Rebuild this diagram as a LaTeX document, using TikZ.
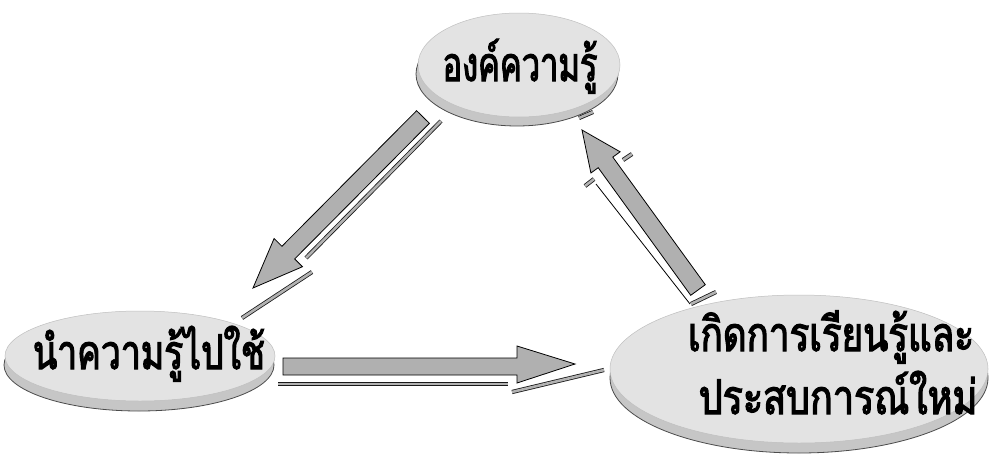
\documentclass[tikz,border=0pt]{standalone}
\usepackage{fontspec}
\usetikzlibrary{shapes.geometric}
\newfontfamily\thaifont[Script=Thai, FakeStretch=0.66, FakeBold=2.2]{Loma}
\newcommand\wideby[2]{\scalebox{#1}[1]{#2}}
\begin{document}
\begin{tikzpicture}[x=1pt,y=-1pt,
  bubble/.style={ellipse, fill=gray!22, draw=gray!50, line width=0.5pt, inner sep=0pt},
  bubshadow/.style={ellipse, fill=gray!45, draw=black!70, line width=0.8pt, inner sep=0pt},
  arrowbody/.style={fill=gray!62, draw=black, line width=0.8pt, line join=miter},
  strip/.style={draw=black!90, double=gray!60, double distance=2.6pt, line width=0.8pt},
  thinline/.style={draw=black, line width=0.8pt},
  label/.style={font=\thaifont\fontsize{48}{56}\selectfont, inner sep=0pt, anchor=base}]
\fill[white] (0,0) rectangle (992,455);
\useasboundingbox (0,0) rectangle (992,455);

% ellipse shadows
\node[bubshadow, minimum width=202pt, minimum height=104pt] (topS) at (517,74) {};
\node[bubshadow, minimum width=270pt, minimum height=92pt] (leftS) at (139,365) {};
\node[bubshadow, minimum width=378pt, minimum height=150pt] (rightS) at (799,378) {};
% ellipses
\node[bubble, minimum width=202pt, minimum height=104pt] (top) at (519,65) {};
\node[bubble, minimum width=270pt, minimum height=90pt] (left) at (140,356) {};
\node[bubble, minimum width=378pt, minimum height=148pt] (right) at (799,369) {};

% labels
\node[label] (topT) at (520,81) {\wideby{1.03}{องค์ความรู้}};
\node[label] (leftT) at (149,369) {\wideby{1.12}{นำความรู้ไปใช้}};
\node[label] (rightT1) at (831,351) {\wideby{1.16}{เกิดการเรียนรู้และ}};
\node[label] (rightT2) at (838,414) {\wideby{1.19}{ประสบการณ์ใหม่}};

% arrow 1 : top -> left
\coordinate (a1tail) at (423,117);
\coordinate (a1tip) at (253,288);
\draw[strip] (441,121) -- (306,258);
\draw[strip] (312,272) -- (242,318);
\path[arrowbody] (416.6,110.7) -- (429.4,123.3) -- (294.7,258.9) -- (302.5,266.7)
  -- (a1tip) -- (274.1,238.5) -- (281.9,246.3) -- cycle;

% arrow 2 : right -> top
\coordinate (a2tail) at (698,290);
\coordinate (a2tip) at (582,130);
\draw[thinline] (596,184) -- (690,304);
\draw[strip] (691,304) -- (716,292);
\draw[strip] (585,186) -- (594,179);
\draw[strip] (623,160) -- (632,154);
\draw[strip] (579,118) -- (593,112);
\path[arrowbody] (690.7,295.3) -- (705.3,284.7) -- (612.8,157.1) -- (620.1,151.8)
  -- (a2tip) -- (590.9,173.0) -- (598.2,167.7) -- cycle;

% arrow 3 : left -> right
\coordinate (a3tail) at (283,366);
\coordinate (a3tip) at (575,364);
\draw[strip] (278,384) -- (508,384);
\draw[strip] (512,392) -- (604,370);
\path[arrowbody] (283,358) -- (517,358) -- (517,346) -- (a3tip) -- (517,383)
  -- (517,375) -- (283,375) -- cycle;
\end{tikzpicture}
\end{document}
